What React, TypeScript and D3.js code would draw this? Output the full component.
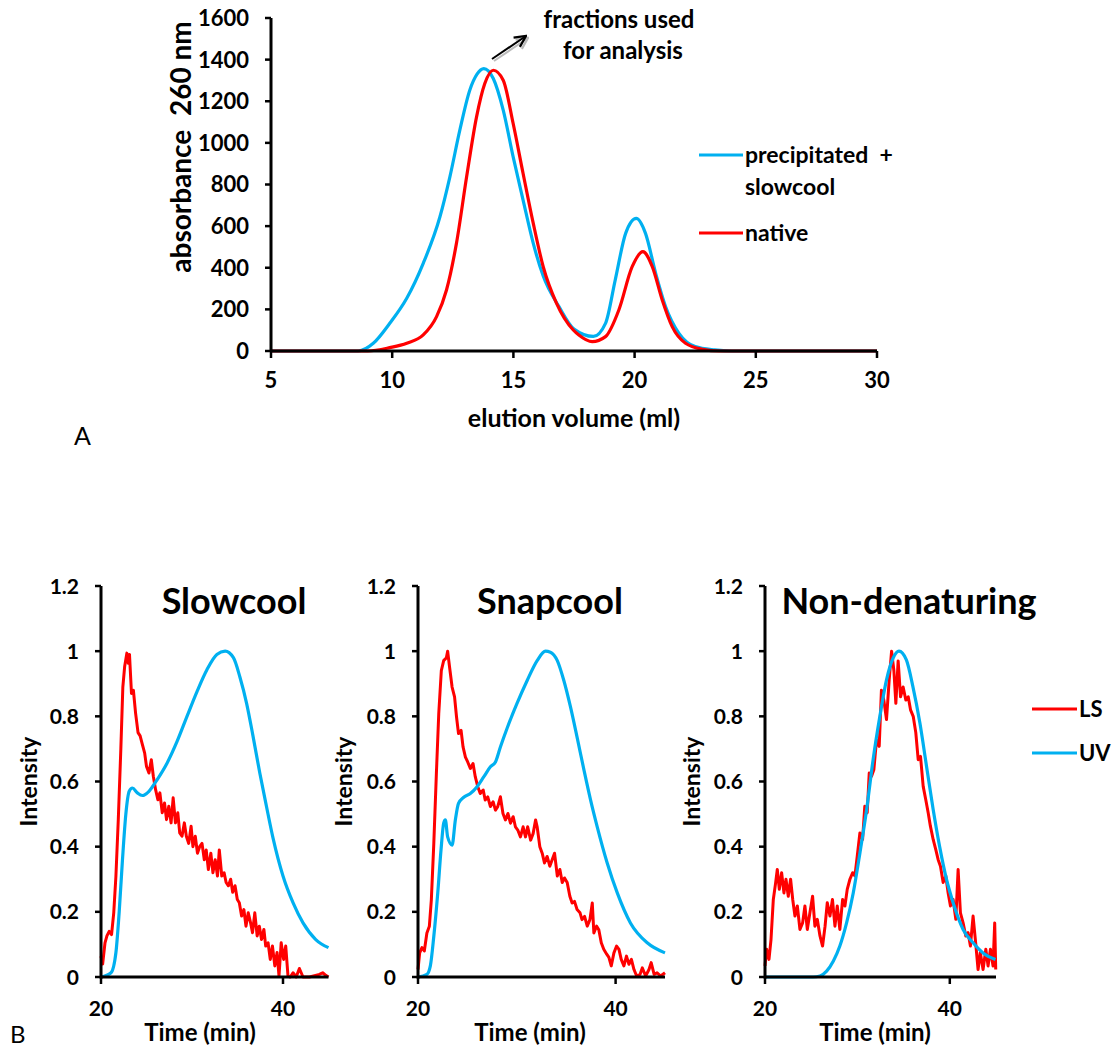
import React from "react";
import * as d3 from "d3";

const FONT = "Lato, 'Open Sans', sans-serif";
const BLUE = "#00B0F0";
const RED = "#FF0000";

// ---------- Panel A data ----------
const aXTicks = [5, 10, 15, 20, 25, 30];
const aYTicks = [0, 200, 400, 600, 800, 1000, 1200, 1400, 1600];
const precipVol = [5, 8.6, 9.22, 9.9, 10.6, 11.28, 11.97, 12.38, 12.79, 13.2, 13.5, 13.78, 14.17, 14.58, 14.99, 15.4, 15.82, 16.23, 16.88, 17.5, 18.3, 18.8, 19.2, 19.63, 20.07, 20.45, 20.87, 21.28, 21.83, 22.5, 23.3, 24, 30];
const precipAbs = [0, 0, 37, 133, 253, 421, 645, 837, 1061, 1253, 1330, 1357, 1309, 1157, 933, 725, 517, 360, 213, 105, 70, 133, 341, 565, 637, 565, 373, 213, 85, 21, 5, 0, 0];
const nativeVol = [5, 9.0, 9.9, 10.6, 11.28, 11.83, 12.24, 12.65, 13.07, 13.48, 13.82, 14.17, 14.58, 14.99, 15.4, 15.82, 16.23, 16.78, 17.47, 17.7, 18.25, 18.8, 19.35, 19.9, 20.34, 20.73, 21.14, 21.55, 22.1, 22.8, 23.5, 30];
const nativeAbs = [0, 0, 16, 37, 77, 165, 293, 517, 837, 1125, 1285, 1349, 1301, 1093, 853, 613, 405, 229, 101, 77, 45, 69, 197, 405, 477, 405, 245, 117, 37, 8, 0, 0];

// ---------- Panel B data ----------
const bXTicks = [20, 40];
const bYTicks = [0, 0.2, 0.4, 0.6, 0.8, 1, 1.2];
const panelTitles = ["Slowcool", "Snapcool", "Non-denaturing"];
const legendLabels = ["LS", "UV"];

const slowUVt = [20, 21.1, 21.64, 22.0, 22.36, 22.73, 23.1, 23.45, 24.0, 24.55, 25.27, 26.18, 27.27, 28.36, 29.45, 30.55, 31.64, 32.73, 33.64, 34.55, 35.27, 36.0, 36.7, 37.45, 38.18, 38.9, 40.0, 41.1, 42.2, 43.6, 45];
const slowUVv = [0, 0.013, 0.075, 0.2, 0.36, 0.5, 0.57, 0.58, 0.565, 0.557, 0.57, 0.606, 0.657, 0.723, 0.8, 0.876, 0.943, 0.99, 1.0, 0.98, 0.92, 0.84, 0.74, 0.626, 0.524, 0.427, 0.31, 0.228, 0.166, 0.115, 0.09];
const slowLSt = [20, 20.18, 20.44, 20.65, 20.9, 21.16, 21.4, 21.64, 21.9, 22.18, 22.4, 22.6, 22.84, 23.0, 23.13, 23.35, 23.56, 23.8, 24.07, 24.3, 24.55, 24.8, 25.0, 25.27, 25.53, 25.75, 26.0, 26.25, 26.47, 26.73, 26.98, 27.2, 27.45, 27.7, 27.93, 28.18, 28.44, 28.65, 28.9, 29.16, 29.38, 29.64, 29.9, 30.1, 30.36, 30.6, 30.84, 31.1, 31.35, 31.56, 31.8, 32.07, 32.3, 32.55, 32.8, 33.0, 33.27, 33.53, 33.75, 34.0, 34.25, 34.47, 34.73, 34.98, 35.2, 35.45, 35.7, 35.93, 36.18, 36.44, 36.65, 36.9, 37.16, 37.4, 37.64, 37.9, 38.1, 38.36, 38.6, 38.84, 39.1, 39.35, 39.56, 39.8, 40.07, 40.3, 40.55, 40.8, 41.1, 41.45, 41.8, 42.2, 42.9, 44.0, 44.36, 44.7, 45];
const slowLSv = [0.064, 0.04, 0.105, 0.126, 0.14, 0.13, 0.197, 0.31, 0.483, 0.7, 0.89, 0.953, 0.994, 0.963, 0.99, 0.87, 0.88, 0.81, 0.75, 0.74, 0.713, 0.687, 0.646, 0.626, 0.667, 0.616, 0.575, 0.544, 0.565, 0.504, 0.534, 0.483, 0.524, 0.473, 0.55, 0.473, 0.504, 0.442, 0.432, 0.473, 0.432, 0.41, 0.463, 0.4, 0.432, 0.38, 0.4, 0.41, 0.36, 0.39, 0.33, 0.38, 0.32, 0.36, 0.31, 0.39, 0.31, 0.32, 0.29, 0.28, 0.3, 0.26, 0.28, 0.238, 0.228, 0.187, 0.207, 0.156, 0.197, 0.166, 0.136, 0.197, 0.126, 0.156, 0.115, 0.146, 0.095, 0.105, 0.054, 0.095, 0.034, 0.075, 0.003, 0.105, 0.054, 0.095, 0.003, 0, 0.013, 0, 0.026, 0, 0, 0.008, 0.013, 0.005, 0];

const snapUVt = [20, 20.9, 21.25, 21.6, 22.0, 22.33, 22.6, 22.77, 23.0, 23.45, 23.78, 24.1, 24.6, 25.3, 25.98, 26.65, 27.33, 27.84, 28.34, 29.0, 30.0, 31.05, 32.06, 32.9, 33.4, 34.1, 34.76, 35.44, 36.1, 36.8, 37.47, 38.14, 39.15, 40.17, 41.5, 43.2, 45];
const snapUVv = [0, 0.008, 0.034, 0.125, 0.258, 0.39, 0.472, 0.482, 0.43, 0.405, 0.482, 0.533, 0.551, 0.563, 0.584, 0.614, 0.645, 0.66, 0.706, 0.762, 0.838, 0.91, 0.971, 1.0, 0.997, 0.971, 0.91, 0.828, 0.736, 0.635, 0.543, 0.461, 0.35, 0.258, 0.166, 0.105, 0.074];
const snapLSt = [20, 20.17, 20.4, 20.64, 20.9, 21.15, 21.35, 21.6, 21.86, 22.1, 22.36, 22.6, 22.87, 23.0, 23.2, 23.45, 23.7, 23.9, 24.1, 24.36, 24.56, 24.8, 25.03, 25.3, 25.57, 25.8, 26.05, 26.3, 26.6, 26.8, 27.06, 27.33, 27.6, 27.84, 28.07, 28.34, 28.6, 28.85, 29.1, 29.36, 29.63, 29.86, 30.1, 30.37, 30.64, 30.88, 31.1, 31.4, 31.65, 31.9, 32.06, 32.33, 32.57, 32.8, 33.07, 33.34, 33.58, 33.82, 34.1, 34.36, 34.6, 34.83, 35.1, 35.37, 35.6, 35.84, 36.1, 36.4, 36.6, 36.86, 37.13, 37.4, 37.64, 37.8, 38.07, 38.3, 38.55, 38.8, 39.1, 39.32, 39.56, 39.83, 40.1, 40.34, 40.57, 40.84, 41.1, 41.35, 41.6, 41.86, 42.13, 42.47, 42.7, 43.04, 43.38, 43.6, 43.9, 44.2, 44.56, 45];
const snapLSv = [0.023, 0.074, 0.09, 0.08, 0.135, 0.156, 0.237, 0.41, 0.624, 0.808, 0.94, 0.971, 0.98, 1.0, 0.95, 0.89, 0.86, 0.798, 0.747, 0.757, 0.706, 0.675, 0.66, 0.64, 0.655, 0.614, 0.584, 0.563, 0.574, 0.543, 0.553, 0.523, 0.538, 0.512, 0.523, 0.553, 0.502, 0.482, 0.502, 0.472, 0.492, 0.461, 0.451, 0.43, 0.461, 0.43, 0.461, 0.42, 0.44, 0.482, 0.461, 0.4, 0.38, 0.35, 0.37, 0.34, 0.36, 0.38, 0.31, 0.33, 0.29, 0.304, 0.29, 0.248, 0.227, 0.232, 0.207, 0.197, 0.176, 0.186, 0.156, 0.176, 0.227, 0.135, 0.156, 0.145, 0.105, 0.085, 0.07, 0.06, 0.034, 0.074, 0.095, 0.085, 0.054, 0.034, 0.064, 0.039, 0.054, 0.023, 0.003, 0.008, 0.028, 0.003, 0.023, 0.044, 0.008, 0.013, 0.003, 0.013];

const nonUVt = [20, 25.2, 25.95, 26.67, 27.4, 28.1, 28.83, 29.55, 30.27, 31.0, 31.7, 32.43, 33.15, 33.87, 34.5, 35.3, 36.0, 36.76, 37.48, 38.2, 38.9, 39.64, 40.36, 41.44, 42.52, 43.6, 44.94];
const nonUVv = [0, 0, 0.003, 0.018, 0.049, 0.095, 0.166, 0.258, 0.38, 0.514, 0.667, 0.8, 0.912, 0.979, 1.0, 0.973, 0.892, 0.78, 0.647, 0.514, 0.4, 0.3, 0.228, 0.146, 0.105, 0.074, 0.054];
const nonLSt = [20, 20.18, 20.43, 20.65, 20.9, 21.15, 21.33, 21.55, 21.8, 22.05, 22.27, 22.52, 22.77, 23.0, 23.24, 23.5, 23.78, 24.07, 24.32, 24.58, 24.86, 25.15, 25.4, 25.66, 25.95, 26.23, 26.5, 26.74, 27.03, 27.3, 27.57, 27.82, 28.1, 28.4, 28.65, 28.9, 29.19, 29.48, 29.73, 29.98, 30.27, 30.56, 30.8, 31.06, 31.28, 31.53, 31.78, 32.07, 32.36, 32.6, 32.86, 33.15, 33.44, 33.7, 33.95, 34.16, 34.41, 34.67, 34.95, 35.24, 35.5, 35.75, 36.04, 36.32, 36.58, 36.83, 37.12, 37.4, 37.66, 37.9, 38.2, 38.49, 38.74, 38.99, 39.28, 39.57, 39.82, 40.07, 40.36, 40.65, 40.9, 41.15, 41.44, 41.73, 41.98, 42.23, 42.52, 42.8, 43.06, 43.3, 43.6, 43.9, 44.14, 44.4, 44.68, 44.86, 44.97];
const nonLSv = [0.034, 0.085, 0.054, 0.115, 0.238, 0.289, 0.33, 0.269, 0.32, 0.258, 0.3, 0.248, 0.3, 0.238, 0.187, 0.218, 0.146, 0.166, 0.218, 0.146, 0.197, 0.248, 0.156, 0.177, 0.126, 0.095, 0.156, 0.228, 0.187, 0.238, 0.156, 0.218, 0.146, 0.238, 0.218, 0.269, 0.3, 0.32, 0.31, 0.37, 0.442, 0.422, 0.524, 0.504, 0.626, 0.616, 0.636, 0.728, 0.708, 0.88, 0.85, 0.79, 0.912, 1.0, 0.94, 0.84, 0.97, 0.86, 0.89, 0.85, 0.86, 0.82, 0.8, 0.75, 0.667, 0.677, 0.585, 0.544, 0.504, 0.463, 0.422, 0.39, 0.36, 0.34, 0.29, 0.31, 0.258, 0.218, 0.238, 0.177, 0.33, 0.197, 0.166, 0.126, 0.136, 0.095, 0.187, 0.105, 0.023, 0.075, 0.023, 0.085, 0.034, 0.085, 0.034, 0.166, 0.023];

const zip = (xs: number[], ys: number[]) => xs.map((x, i) => [x, ys[i]] as [number, number]);

type PanelCfg = {
  title: string; x0: number; x1: number; titleX: number; timeX: number; intX: number;
  ls: [number, number][]; uv: [number, number][];
};

const panels: PanelCfg[] = [
  { title: panelTitles[0], x0: 101, x1: 328.5, titleX: 234, timeX: 200, intX: 29, ls: zip(slowLSt, slowLSv), uv: zip(slowUVt, slowUVv) },
  { title: panelTitles[1], x0: 418, x1: 665, titleX: 550, timeX: 530, intX: 344, ls: zip(snapLSt, snapLSv), uv: zip(snapUVt, snapUVv) },
  { title: panelTitles[2], x0: 765, x1: 996, titleX: 909, timeX: 875, intX: 692, ls: zip(nonLSt, nonLSv), uv: zip(nonUVt, nonUVv) },
];

function PanelB({ cfg }: { cfg: PanelCfg }) {
  const x = d3.scaleLinear().domain([20, 45]).range([cfg.x0, cfg.x1]);
  const y = d3.scaleLinear().domain([0, 1.2]).range([977, 586]);
  const line = d3.line<[number, number]>().x(d => x(d[0])).y(d => y(d[1]));
  const smooth = d3.line<[number, number]>().x(d => x(d[0])).y(d => y(d[1])).curve(d3.curveMonotoneX);
  return (
    <g>
      <path d={line(cfg.ls) || ""} fill="none" stroke={RED} strokeWidth={3} strokeLinejoin="round" />
      <path d={smooth(cfg.uv) || ""} fill="none" stroke={BLUE} strokeWidth={3.2} />
      <line x1={x(20)} x2={x(45)} y1={y(0)} y2={y(0)} stroke="#000" strokeWidth={3} />
      <line x1={x(20)} x2={x(20)} y1={y(0) + 1.5} y2={y(1.2)} stroke="#000" strokeWidth={3} />
      {bYTicks.map(t => (
        <g key={t}>
          <line x1={x(20) - 6} x2={x(20)} y1={y(t)} y2={y(t)} stroke="#000" strokeWidth={2.5} />
          <text x={x(20) - 22} y={y(t)} dy="0.36em" textAnchor="end" fontSize={21} fontWeight="bold" fontFamily={FONT}>{String(t)}</text>
        </g>
      ))}
      {bXTicks.map(t => (
        <g key={t}>
          <line x1={x(t)} x2={x(t)} y1={y(0)} y2={y(0) + 7} stroke="#000" strokeWidth={2.5} />
          <text x={x(t)} y={y(0) + 39} textAnchor="middle" fontSize={21} fontWeight="bold" fontFamily={FONT}>{String(t)}</text>
        </g>
      ))}
      <text x={cfg.timeX} y={1041} textAnchor="middle" fontSize={24} fontWeight="bold" fontFamily={FONT}>Time (min)</text>
      <text transform={`translate(${cfg.intX},${y(0.6)}) rotate(-90)`} dy="0.36em" textAnchor="middle" fontSize={23} fontWeight="bold" fontFamily={FONT}>Intensity</text>
      <text x={cfg.titleX} y={614} textAnchor="middle" fontSize={36} fontWeight="bold" fontFamily={FONT}>{cfg.title}</text>
    </g>
  );
}

export default function App() {
  const ax = d3.scaleLinear().domain([5, 30]).range([271, 877]);
  const ay = d3.scaleLinear().domain([0, 1600]).range([351, 18]);
  const aLine = d3.line<[number, number]>().x(d => ax(d[0])).y(d => ay(d[1])).curve(d3.curveMonotoneX);
  const precip = zip(precipVol, precipAbs);
  const native = zip(nativeVol, nativeAbs);

  return (
    <svg width={1112} height={1051} style={{ position: "absolute", left: 0, top: 0, background: "#fff" }}>
      <defs>
        <marker id="arr" viewBox="0 0 10 10" refX="9" refY="5" markerWidth="7" markerHeight="7" orient="auto">
          <path d="M1,1 L9,5 L1,9" fill="none" stroke="#000" strokeWidth={1.6} />
        </marker>
        <marker id="arrs" viewBox="0 0 10 10" refX="9" refY="5" markerWidth="7" markerHeight="7" orient="auto">
          <path d="M1,1 L9,5 L1,9" fill="none" stroke="#bbb" strokeWidth={1.6} />
        </marker>
      </defs>
      {/* Panel A */}
      <path d={aLine(precip) || ""} fill="none" stroke={BLUE} strokeWidth={3.2} />
      <path d={aLine(native) || ""} fill="none" stroke={RED} strokeWidth={3.2} />
      <line x1={ax(5)} x2={ax(30)} y1={ay(0)} y2={ay(0)} stroke="#000" strokeWidth={3} />
      <line x1={ax(5)} x2={ax(5)} y1={ay(0)} y2={ay(1600)} stroke="#000" strokeWidth={3} />
      {aYTicks.map(t => (
        <g key={t}>
          <line x1={ax(5) - 6} x2={ax(5)} y1={ay(t)} y2={ay(t)} stroke="#000" strokeWidth={2.5} />
          <text x={ax(5) - 22} y={ay(t)} dy="0.36em" textAnchor="end" fontSize={22} fontWeight="bold" fontFamily={FONT}>{String(t)}</text>
        </g>
      ))}
      {aXTicks.map(t => (
        <g key={t}>
          <line x1={ax(t)} x2={ax(t)} y1={ay(0)} y2={ay(0) + 7} stroke="#000" strokeWidth={2.5} />
          <text x={ax(t)} y={ay(0) + 37} textAnchor="middle" fontSize={22} fontWeight="bold" fontFamily={FONT}>{String(t)}</text>
        </g>
      ))}
      <text x={574} y={427} textAnchor="middle" fontSize={25} fontWeight="bold" fontFamily={FONT}>elution volume (ml)</text>
      <text transform={`translate(181,147) rotate(-90)`} dy="0.36em" textAnchor="middle" fontSize={28} fontWeight="bold" fontFamily={FONT} xmlSpace="preserve">absorbance  260 nm</text>
      {/* annotation */}
      <line x1={494} y1={61} x2={528} y2={38} stroke="#bbb" strokeWidth={2} markerEnd="url(#arrs)" />
      <line x1={492} y1={59} x2={526} y2={36} stroke="#000" strokeWidth={2} markerEnd="url(#arr)" />
      <text x={619} y={28} textAnchor="middle" fontSize={24} fontWeight="bold" fontFamily={FONT}>fractions used</text>
      <text x={623} y={59} textAnchor="middle" fontSize={24} fontWeight="bold" fontFamily={FONT}>for analysis</text>
      {/* legend A */}
      <line x1={699} x2={743} y1={155} y2={155} stroke={BLUE} strokeWidth={3.2} />
      <text x={745} y={155} dy="0.36em" fontSize={23} fontWeight="bold" fontFamily={FONT} xmlSpace="preserve">precipitated  +</text>
      <text x={745} y={187} dy="0.36em" fontSize={23} fontWeight="bold" fontFamily={FONT}>slowcool</text>
      <line x1={699} x2={743} y1={233} y2={233} stroke={RED} strokeWidth={3.2} />
      <text x={745} y={233} dy="0.36em" fontSize={23} fontWeight="bold" fontFamily={FONT}>native</text>
      <text x={74} y={445} fontSize={25} fontFamily={FONT}>A</text>

      {/* Panel B */}
      {panels.map(p => <PanelB key={p.title} cfg={p} />)}
      <line x1={1032} x2={1077} y1={709} y2={709} stroke={RED} strokeWidth={3.2} />
      <text x={1079} y={709} dy="0.36em" fontSize={22} fontWeight="bold" fontFamily={FONT}>{legendLabels[0]}</text>
      <line x1={1032} x2={1077} y1={753} y2={753} stroke={BLUE} strokeWidth={3.2} />
      <text x={1079} y={753} dy="0.36em" fontSize={22} fontWeight="bold" fontFamily={FONT}>{legendLabels[1]}</text>
      <text x={10} y={1043} fontSize={24} fontFamily={FONT}>B</text>
    </svg>
  );
}
